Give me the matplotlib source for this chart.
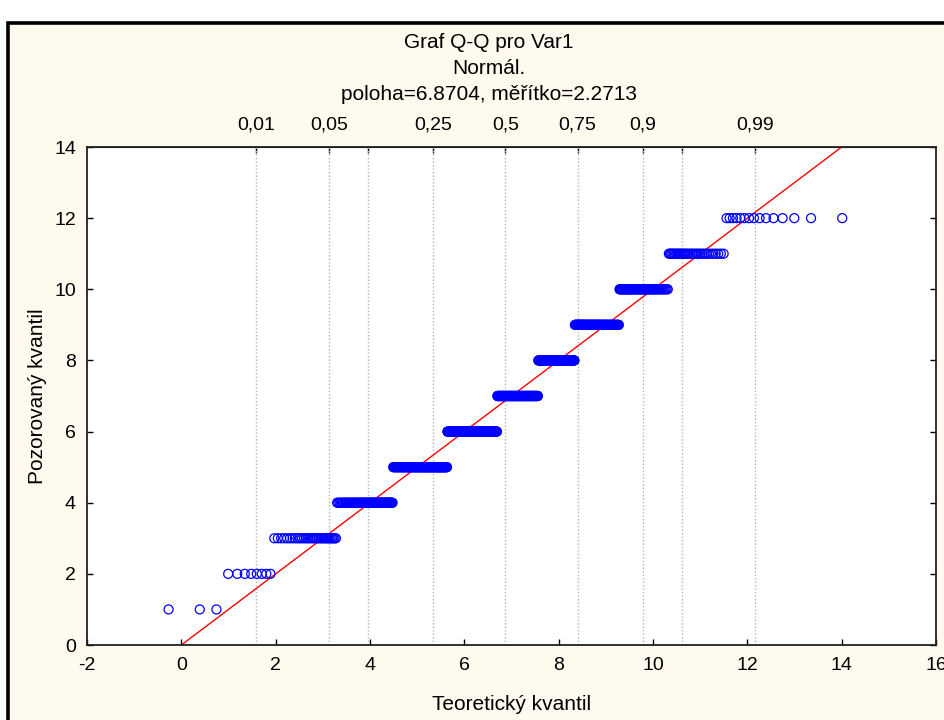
import numpy as np
import matplotlib
matplotlib.use("Agg")
import matplotlib.pyplot as plt
from matplotlib.patches import Rectangle
from statistics import NormalDist

plt.rcParams['font.family'] = ['Liberation Sans', 'DejaVu Sans']
plt.rcParams['axes.unicode_minus'] = False

# ---- data ----
values = [1, 2, 3, 4, 5, 6, 7, 8, 9, 10, 11, 12]
counts = [3, 8, 32, 67, 110, 132, 113, 91, 86, 60, 33, 15]
loc = 6.8704
scale = 2.2713
probs = [0.01, 0.05, 0.1, 0.25, 0.5, 0.75, 0.9, 0.95, 0.99]
prob_labels = ['0,01', '0,05', '', '0,25', '0,5', '0,75', '0,9', '', '0,99']
x_ticks = [-2, 0, 2, 4, 6, 8, 10, 12, 14, 16]
y_ticks = [0, 2, 4, 6, 8, 10, 12, 14]

title_lines = ['Graf Q-Q pro Var1', 'Normál.', 'poloha=6.8704, měřítko=2.2713']

# ---- Q-Q computation (Blom positions) ----
obs = np.repeat(values, counts)
n = len(obs)
nd = NormalDist(loc, scale)
ppos = (np.arange(1, n + 1) - 0.375) / (n + 0.25)
theo = np.array([nd.inv_cdf(p) for p in ppos])
prob_x = [nd.inv_cdf(p) for p in probs]

cream = '#FFF9EE'
W, H = 945, 720
fig = plt.figure(figsize=(W / 100, H / 100), dpi=100, facecolor='white')
frame = Rectangle((8 / W, -0.1), 1.2, (H - 23) / H + 0.1, transform=fig.transFigure,
                  facecolor=cream, edgecolor='black', lw=2.6, zorder=-10)
fig.patches.append(frame)

ax = fig.add_axes([87 / W, 1 - 645 / H, (936 - 87) / W, (645 - 147) / H])
ax.set_facecolor('white')
ax.set_xlim(-2, 16)
ax.set_ylim(0, 14)

for px in prob_x:
    ax.axvline(px, color='#b4b4b4', lw=1.0, ls=(0, (1, 1.5)), zorder=1)

ax.plot([-2, 16], [-2, 16], color='#ff0000', lw=1.0, zorder=2)
ax.scatter(theo, obs, s=42, facecolors='none', edgecolors='#0000ff', linewidths=0.9, zorder=3)

ax.set_xticks(x_ticks)
ax.set_yticks(y_ticks)
ax.tick_params(axis='both', direction='in', length=4, width=1, labelsize=14, colors='black')
ax.tick_params(axis='x', pad=9)
ax.tick_params(axis='y', pad=8, right=True)
for s in ax.spines.values():
    s.set_linewidth(1.3)
    s.set_color('#222222')

sec = ax.secondary_xaxis('top')
sec.set_xticks(prob_x)
sec.set_xticklabels(prob_labels)
sec.tick_params(direction='in', length=4, width=1, labelsize=14, pad=10)

ax.set_xlabel('Teoretický kvantil', fontsize=15, labelpad=15)
ax.set_ylabel('Pozorovaný kvantil', fontsize=15, labelpad=5)

cx = 489 / W
for t, yp in zip(title_lines, [43, 69, 95]):
    fig.text(cx, 1 - yp / H, t, ha='center', va='center', fontsize=15)

fig.savefig('out.png', dpi=100, facecolor=fig.get_facecolor())
